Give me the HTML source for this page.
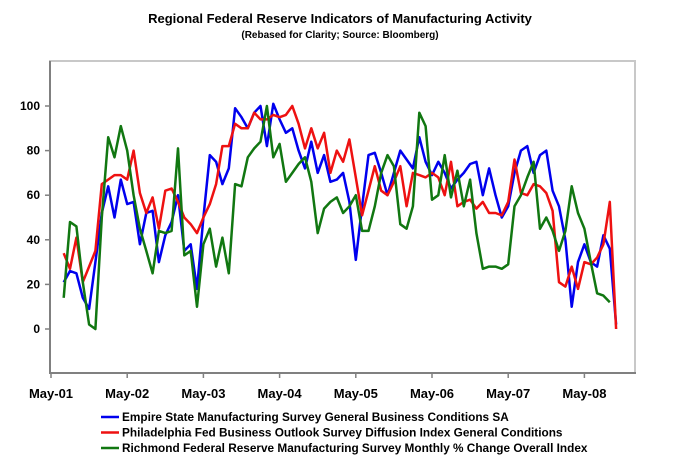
<!DOCTYPE html>
<html><head><meta charset="utf-8"><style>
body{margin:0;background:#fff;}
svg{display:block;font-family:"Liberation Sans",Arial,sans-serif;}
</style></head><body>
<svg id="chart" width="680" height="462" viewBox="0 0 680 462">
<text x="340" y="23" text-anchor="middle" font-size="13" font-weight="bold">Regional Federal Reserve Indicators of Manufacturing Activity</text>
<text x="340" y="38" text-anchor="middle" font-size="10" font-weight="bold">(Rebased for Clarity; Source: Bloomberg)</text>
<rect x="50" y="61" width="585" height="312" fill="#fff" stroke="#c8c8c8" stroke-width="2"/>
<g id="axes"></g>
<g id="series"></g>
<g id="legend"></g>
</svg>
<script>
const yTicks=[0,20,40,60,80,100];
const xLabels=["May-01","May-02","May-03","May-04","May-05","May-06","May-07","May-08"];
const startMonth=2;
const empire=[21,26,25,14,9,30,52,64,50,67,56,57,38,52,53,30,42,48,60,35,38,18,50,78,75,65,72,99,95,90,97,100,82,101,94,88,90,80,72,84,70,78,66,67,70,57,31,55,78,79,70,60,70,80,76,72,86,75,69,75,70,63,67,70,74,75,60,72,60,50,55,70,80,82,70,78,80,62,55,40,10,30,38,30,28,42,36,2];
const philly=[34,27,41,21,28,35,65,67,69,69,67,80,61,52,59,45,62,63,57,50,47,43,50,56,65,82,82,92,90,90,97,94,94,96,95,96,100,92,81,90,81,88,70,80,75,85,68,51,62,73,62,60,66,73,55,70,69,68,70,68,60,75,55,57,58,54,57,52,52,51,57,76,61,60,65,64,61,53,21,19,28,18,30,29,32,38,57,0];
const richmond=[14,48,46,21,2,0,50,86,77,91,80,60,45,35,25,44,43,44,81,33,35,10,38,45,28,41,25,65,64,77,81,84,100,77,83,66,70,74,77,66,43,54,57,59,52,55,60,44,44,55,70,78,73,47,45,55,97,91,58,60,78,59,71,55,67,43,27,28,28,27,29,55,60,68,75,45,50,44,35,44,64,52,45,30,16,15,12];
const legendNames=["Empire State Manufacturing Survey General Business Conditions SA","Philadelphia Fed Business Outlook Survey Diffusion Index General Conditions","Richmond Federal Reserve Manufacturing Survey Monthly % Change Overall Index"];

const NS="http://www.w3.org/2000/svg";
const X0=51, MPX=6.35;
const xs=m=>X0+m*MPX;
const ys=v=>329-v*2.23;
function mk(tag,attrs,parent){const e=document.createElementNS(NS,tag);for(const k in attrs)e.setAttribute(k,attrs[k]);parent.appendChild(e);return e;}
const axes=document.getElementById('axes');
let a=mk('line',{x1:50,y1:61,x2:50,y2:374,stroke:'#808080','stroke-width':2},axes);


a=mk('line',{x1:49,y1:373,x2:636,y2:373,stroke:'#808080','stroke-width':2},axes);


yTicks.forEach(v=>{
  const t=mk('line',{x1:45,x2:50,y1:ys(v),y2:ys(v),stroke:'#808080','stroke-width':1.5},axes);
  
  
  const l=mk('text',{x:40,y:ys(v)+4,'text-anchor':'end','font-size':12,'font-weight':'bold'},axes);
  l.textContent=v;
  
  
});
xLabels.forEach((s,i)=>{
  const x=xs(i*12);
  const t=mk('line',{x1:x,x2:x,y1:373,y2:378,stroke:'#808080','stroke-width':1.5},axes);
  
  
  const l=mk('text',{x:x,y:398,'text-anchor':'middle','font-size':13,'font-weight':'bold'},axes);
  l.textContent=s;
  
  
});
const ser=document.getElementById('series');
const defs=[[empire,'#0000ee','empire-line'],[philly,'#ee1111','philadelphia-line'],[richmond,'#117711','richmond-line']];
defs.forEach(([arr,col,name])=>{
  const pts=arr.map((v,i)=>xs(startMonth+i).toFixed(1)+','+ys(v).toFixed(1)).join(' ');
  const p=mk('polyline',{points:pts,fill:'none',stroke:col,'stroke-width':2.5,'stroke-linejoin':'round'},ser);
  
  
});
const lg=document.getElementById('legend');
legendNames.forEach((n,i)=>{
  const y=417+i*15.5;
  const g=mk('g',{},lg);
  
  
  mk('line',{x1:101,x2:119,y1:y,y2:y,stroke:defs[i][1],'stroke-width':2.5},g);
  const t=mk('text',{x:122,y:y+4,'font-size':11.8,'font-weight':'bold'},g);
  t.textContent=n;
});
</script>
</body></html>
